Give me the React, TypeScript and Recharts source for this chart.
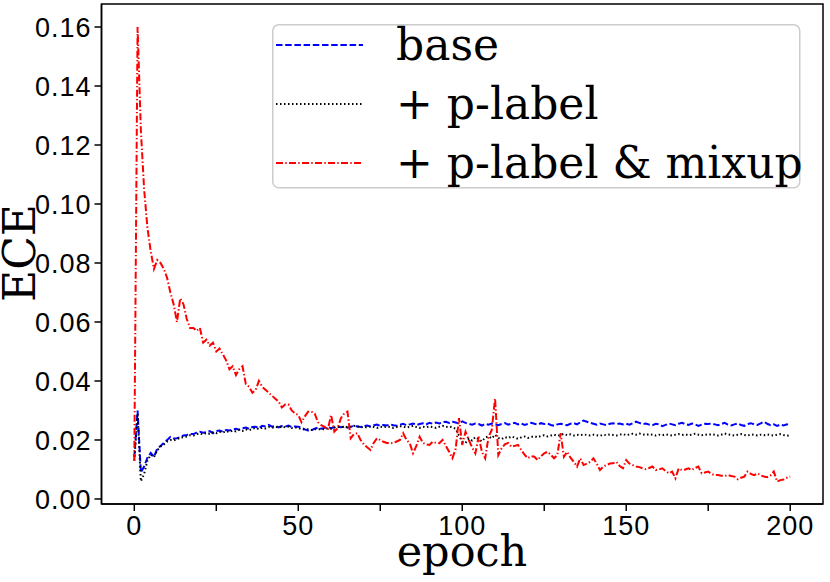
import { LineChart, Line, XAxis, YAxis, ReferenceArea, Legend, Label } from "recharts"

// ECE per epoch (0..200)
const base = [
  0.014, 0.030, 0.009, 0.011, 0.014, 0.0156, 0.0143, 0.017, 0.018, 0.019,
  0.020, 0.021, 0.0205, 0.0206, 0.021, 0.0215, 0.0217, 0.022, 0.022, 0.0225,
  0.0228, 0.0225, 0.0227, 0.023, 0.0223, 0.023, 0.0232, 0.0228, 0.0234, 0.0232,
  0.0236, 0.0238, 0.0235, 0.024, 0.0242, 0.0238, 0.0244, 0.0245, 0.024, 0.0248,
  0.0246, 0.0251, 0.0245, 0.0248, 0.0243, 0.0247, 0.0245, 0.0249, 0.0244, 0.0246,
  0.0245, 0.0242, 0.0236, 0.0232, 0.0233, 0.0238, 0.0242, 0.0238, 0.0241, 0.0244,
  0.024, 0.0243, 0.0246, 0.0243, 0.0245, 0.0242, 0.0245, 0.0248, 0.0246, 0.0244,
  0.0247, 0.0249, 0.0246, 0.025, 0.0252, 0.0248, 0.0251, 0.0249, 0.0253, 0.025,
  0.0248, 0.0252, 0.0255, 0.025, 0.0253, 0.0256, 0.0251, 0.0254, 0.0257, 0.0253,
  0.0258, 0.0255, 0.0259, 0.0256, 0.026, 0.0262, 0.0258, 0.0262, 0.0259, 0.0256,
  0.0263, 0.0258, 0.0255, 0.0252, 0.0256, 0.0254, 0.0249, 0.0255, 0.0252, 0.0256,
  0.0253, 0.025, 0.0254, 0.0257, 0.0252, 0.0255, 0.0258, 0.0253, 0.0256, 0.0251,
  0.0254, 0.0258, 0.0255, 0.0252, 0.0257, 0.0254, 0.0256, 0.0251, 0.0248, 0.0253,
  0.0255, 0.0252, 0.025, 0.0255, 0.0257, 0.0253, 0.026, 0.0266, 0.0262, 0.0258,
  0.0255, 0.0252, 0.0256, 0.0253, 0.025, 0.0255, 0.0257, 0.0254, 0.0256, 0.0253,
  0.0255, 0.0252, 0.0257, 0.0262, 0.0258, 0.0254, 0.0256, 0.0252, 0.025, 0.0255,
  0.0253, 0.0247, 0.0251, 0.0256, 0.0253, 0.025, 0.0255, 0.0258, 0.0254, 0.0251,
  0.0256, 0.0253, 0.0248, 0.0252, 0.0255, 0.0254, 0.0256, 0.0253, 0.025, 0.0254,
  0.0258, 0.0252, 0.0249, 0.0253, 0.0256, 0.0251, 0.0248, 0.0254, 0.0257, 0.0253,
  0.0251, 0.0256, 0.0262, 0.0255, 0.025, 0.0253, 0.0248, 0.0252, 0.0249, 0.0253,
  0.025,
]

const pLabel = [
  0.013, 0.029, 0.006, 0.0085, 0.013, 0.015, 0.0142, 0.0165, 0.0178, 0.0185,
  0.0195, 0.02, 0.0198, 0.0203, 0.0207, 0.021, 0.0212, 0.0216, 0.0215, 0.022,
  0.0222, 0.0219, 0.0224, 0.0221, 0.0226, 0.0223, 0.0228, 0.0225, 0.023, 0.0227,
  0.0232, 0.0229, 0.0234, 0.0231, 0.0236, 0.0233, 0.0238, 0.0241, 0.0237, 0.0242,
  0.0239, 0.0244, 0.0241, 0.0245, 0.0242, 0.0246, 0.0243, 0.0245, 0.0241, 0.0243,
  0.024, 0.0237, 0.0235, 0.0236, 0.0234, 0.0237, 0.0235, 0.0238, 0.0236, 0.024,
  0.0238, 0.0242, 0.0245, 0.0243, 0.0246, 0.0243, 0.0245, 0.0248, 0.0246, 0.0243,
  0.0245, 0.0242, 0.0246, 0.0244, 0.0241, 0.0245, 0.0243, 0.0246, 0.0244, 0.0241,
  0.0244, 0.0247, 0.0245, 0.0242, 0.0245, 0.0248, 0.0244, 0.0241, 0.0245, 0.0243,
  0.0246, 0.0244, 0.0241, 0.0245, 0.0248, 0.0244, 0.0246, 0.0243, 0.0238, 0.0215,
  0.0195, 0.019, 0.0205, 0.0198, 0.021, 0.0203, 0.0195, 0.0208, 0.0212, 0.0205,
  0.0218, 0.0207, 0.0203, 0.021, 0.0206, 0.0212, 0.0208, 0.0204, 0.0209, 0.0212,
  0.0207, 0.021, 0.0213, 0.0209, 0.0214, 0.0216, 0.0212, 0.0215, 0.0218, 0.0214,
  0.0217, 0.0221, 0.0216, 0.0219, 0.0215, 0.0218, 0.0216, 0.0219, 0.0217, 0.0215,
  0.0218, 0.0216, 0.0214, 0.0218, 0.0216, 0.0219, 0.0217, 0.0215, 0.0218, 0.022,
  0.0216, 0.0219, 0.0221, 0.0218, 0.0222, 0.0219, 0.0217, 0.022, 0.0218, 0.0215,
  0.0218, 0.0216, 0.0219, 0.0217, 0.0215, 0.0218, 0.022, 0.0217, 0.0219, 0.0216,
  0.0218, 0.0221, 0.0218, 0.0216, 0.0219, 0.0217, 0.022, 0.0218, 0.0215, 0.0218,
  0.0222, 0.0219, 0.0217, 0.0215, 0.0218, 0.022, 0.0217, 0.0215, 0.0219, 0.0217,
  0.0215, 0.0218, 0.0216, 0.0219, 0.0217, 0.0215, 0.0218, 0.022, 0.0217, 0.0215,
  0.0214,
]

const pLabelMixup = [
  0.013, 0.16, 0.125, 0.105, 0.092, 0.084, 0.078, 0.081, 0.08, 0.078,
  0.075, 0.07, 0.066, 0.06, 0.068, 0.066, 0.061, 0.058, 0.058, 0.057,
  0.058, 0.053, 0.054, 0.052, 0.053, 0.05, 0.051, 0.049, 0.047, 0.044,
  0.045, 0.042, 0.044, 0.045, 0.039, 0.038, 0.036, 0.037, 0.04, 0.038,
  0.037, 0.036, 0.035, 0.034, 0.033, 0.031, 0.032, 0.032, 0.03, 0.029,
  0.0285, 0.026, 0.028, 0.0296, 0.0296, 0.029, 0.026, 0.025, 0.0245, 0.0234,
  0.0285, 0.0228, 0.024, 0.0274, 0.029, 0.0296, 0.0206, 0.022, 0.0223, 0.02,
  0.0185, 0.0175, 0.0166, 0.019, 0.0206, 0.02, 0.0194, 0.019, 0.0189, 0.019,
  0.0195, 0.02, 0.0223, 0.02, 0.0189, 0.0155, 0.018, 0.0211, 0.019, 0.0185,
  0.0183, 0.0194, 0.019, 0.0189, 0.02, 0.018, 0.016, 0.0138, 0.017, 0.0274,
  0.0183, 0.0228, 0.02, 0.0175, 0.0155, 0.0211, 0.016, 0.0138, 0.021, 0.0234,
  0.0341, 0.0149, 0.0172, 0.0185, 0.019, 0.0177, 0.018, 0.0183, 0.0166, 0.015,
  0.0138, 0.0145, 0.0143, 0.0132, 0.0145, 0.0155, 0.016, 0.015, 0.0138, 0.0149,
  0.0223, 0.0143, 0.016, 0.014, 0.0126, 0.011, 0.0138, 0.0115, 0.012, 0.0126,
  0.0138, 0.012, 0.0098, 0.011, 0.0115, 0.012, 0.0121, 0.0126, 0.0112, 0.0104,
  0.0132, 0.012, 0.0115, 0.011, 0.0108, 0.0104, 0.0101, 0.0105, 0.011, 0.0098,
  0.01, 0.0104, 0.0095, 0.0087, 0.0093, 0.007, 0.0104, 0.0098, 0.01, 0.0104,
  0.0098, 0.0105, 0.011, 0.0087, 0.009, 0.0093, 0.0085, 0.0081, 0.0081, 0.0079,
  0.0078, 0.0081, 0.0078, 0.0076, 0.0067, 0.0072, 0.0076, 0.0093, 0.0085, 0.0081,
  0.0087, 0.008, 0.0076, 0.0074, 0.008, 0.0093, 0.0059, 0.0064, 0.0066, 0.0072,
  0.0076,
]

const xTicks = [0, 25, 50, 75, 100, 125, 150, 175, 200]
const yTicks = [0, 0.02, 0.04, 0.06, 0.08, 0.1, 0.12, 0.14, 0.16]

const series = [
  { key: "base", name: "base", color: "#0000ff", dash: "6.5 2.7" },
  { key: "pLabel", name: "+ p-label", color: "#000000", dash: "1.5 2.5" },
  { key: "mixup", name: "+ p-label & mixup", color: "#ff0000", dash: "7 2.3 1.4 2.3" },
]

const data = base.map((b, i) => ({
  epoch: i,
  base: b,
  pLabel: pLabel[i],
  mixup: pLabelMixup[i],
}))

const X_DOMAIN: [number, number] = [-10, 210]
const Y_DOMAIN: [number, number] = [-0.0017, 0.1678]

const tickFont = {
  fontFamily: "'Liberation Sans', Arial, sans-serif",
  fontSize: 27,
  letterSpacing: 1,
  fill: "#000",
}
const serif = "'DejaVu Serif', serif"

function LegendBox() {
  return (
    <svg width={545} height={170} style={{ display: "block", overflow: "visible" }}>
      <rect x={0.75} y={0.75} width={527} height={163} rx={6} fill="#fff" fillOpacity={0.8} stroke="#cccccc" strokeWidth={1.5} />
      {series.map((s, i) => {
        const cy = 21 + i * 59
        return (
          <g key={s.key}>
            <line x1={4} x2={91} y1={cy} y2={cy} stroke={s.color} strokeWidth={2} strokeDasharray={s.dash} />
            <text x={124} y={cy + 15} fontFamily={serif} fontSize={44} fill="#000">
              {s.name}
            </text>
          </g>
        )
      })}
    </svg>
  )
}

export default function App() {
  return (
    <div style={{ position: "absolute", left: 0, top: 0, background: "#fff" }}>
      <LineChart width={830} height={582} data={data} margin={{ top: 4, right: 7, bottom: 0, left: 0 }}>
        <XAxis
          dataKey="epoch"
          type="number"
          domain={X_DOMAIN}
          ticks={xTicks}
          tickFormatter={(v: number) => (v % 50 === 0 ? String(v) : "")}
          height={78}
          tickSize={7}
          tickMargin={5}
          tick={tickFont}
          stroke="#000"
          strokeWidth={1.5}
          allowDataOverflow
        >
          <Label
            content={() => (
              <text x={462} y={566} textAnchor="middle" fontFamily={serif} fontSize={43} fill="#000">
                epoch
              </text>
            )}
          />
        </XAxis>
        <YAxis
          type="number"
          domain={Y_DOMAIN}
          ticks={yTicks}
          tickFormatter={(v: number) => v.toFixed(2)}
          width={101.5}
          tickSize={7}
          tickMargin={3}
          tick={tickFont}
          stroke="#000"
          strokeWidth={1.5}
          allowDataOverflow
        >
          <Label
            content={() => (
              <text x={35} y={253} transform="rotate(-90 35 253)" textAnchor="middle" fontFamily={serif} fontSize={44} fill="#000">
                ECE
              </text>
            )}
          />
        </YAxis>
        <ReferenceArea
          x1={X_DOMAIN[0]}
          x2={X_DOMAIN[1]}
          y1={Y_DOMAIN[0]}
          y2={Y_DOMAIN[1]}
          fill="none"
          stroke="#000"
          strokeWidth={1.5}
          ifOverflow="visible"
        />
        {series.map((s) => (
          <Line
            key={s.key}
            dataKey={s.key}
            name={s.name}
            type="linear"
            stroke={s.color}
            strokeWidth={2}
            strokeDasharray={s.dash}
            dot={false}
            isAnimationActive={false}
          />
        ))}
        <Legend
          layout="vertical"
          align="center"
          verticalAlign="middle"
          content={() => <LegendBox />}
          wrapperStyle={{ position: "absolute", left: 272, top: 24, width: 545, height: 170 }}
        />
      </LineChart>
    </div>
  )
}
